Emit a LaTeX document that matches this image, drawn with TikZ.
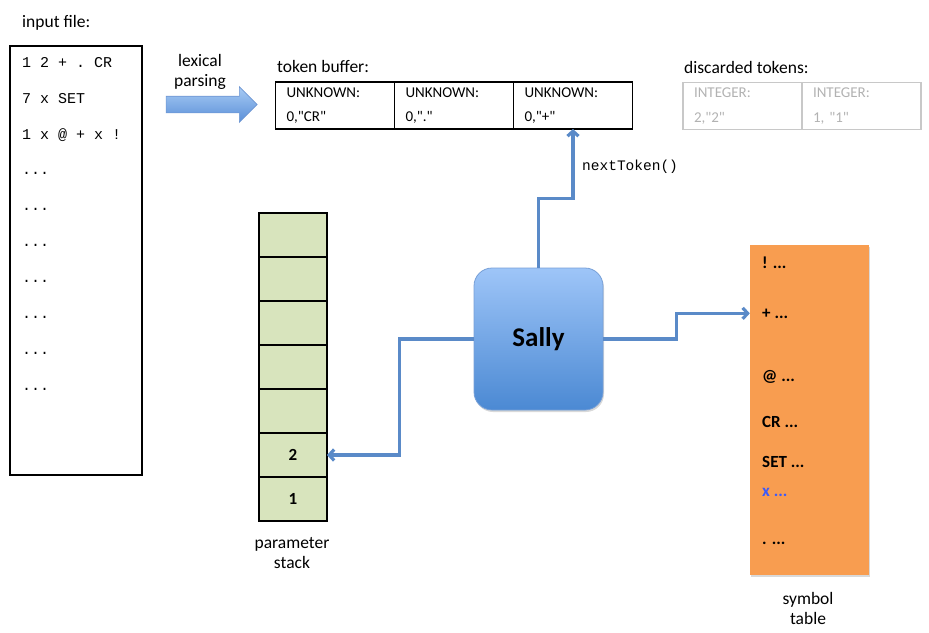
\documentclass[tikz,border=0pt]{standalone}
\usepackage{fontspec}
\setmainfont{Carlito}[Ligatures=TeXOff]
\setmonofont{Liberation Mono}
\usepackage{xcolor}
\usetikzlibrary{shapes,arrows,arrows.meta,positioning,shadows}

\definecolor{connblue}{RGB}{90,138,200}
\definecolor{sallytop}{RGB}{158,197,248}
\definecolor{sallybot}{RGB}{75,137,211}
\definecolor{lextop}{RGB}{168,203,244}
\definecolor{lexbot}{RGB}{90,143,216}
\definecolor{stackgreen}{RGB}{216,228,189}
\definecolor{symorange}{RGB}{248,157,80}
\definecolor{discgray}{RGB}{200,200,200}
\definecolor{disctext}{RGB}{178,178,178}
\definecolor{symblue}{RGB}{60,90,250}

\begin{document}
\begin{tikzpicture}[
    x=1pt, y=-1pt,
    lbl/.style={
        inner sep=0pt,
        font=\fontsize{17.5}{20}\selectfont
    },
    cell/.style={
        draw,
        line width=1.6pt,
        minimum width=119pt,
        minimum height=47pt,
        text width=97pt,
        align=left,
        inner sep=0pt,
        outer sep=0pt,
        font=\fontsize{15}{24.5}\selectfont
    },
    slot/.style={
        draw,
        line width=1.6pt,
        fill=stackgreen,
        minimum width=68pt,
        minimum height=44pt,
        inner sep=0pt,
        outer sep=0pt,
        font=\bfseries\fontsize{17}{20}\selectfont
    },
    sym/.style={
        anchor=base west,
        inner sep=0pt,
        font=\bfseries\fontsize{17}{20}\selectfont
    },
    conn/.style={
        draw=connblue,
        line width=3.2pt,
        -{Straight Barb[length=5pt,width=11pt]}
    }
]
    \useasboundingbox (0,0) rectangle (929,632);

    % input file
    \node[lbl, anchor=base west] (inlabel) at (22,27) {input file:};
    \node[
        draw,
        line width=1.6pt,
        minimum width=132pt,
        minimum height=429pt
    ] (infile) at (76,260.5) {};
    \node[
        anchor=north west,
        inner sep=0pt,
        align=left,
        font=\ttfamily\fontsize{15}{35.9}\selectfont
    ] (inlines) at (22,57) {1 2 + . CR\\7 x SET\\1 x @ + x !\\...\\...\\...\\...\\...\\...\\...};

    % lexical parsing
    \node[
        single arrow,
        minimum height=91pt,
        minimum width=35pt,
        single arrow head extend=9.5pt,
        inner sep=8pt,
        top color=lextop,
        bottom color=lexbot,
        draw={rgb,255:red,110;green,150;blue,210},
        line width=0.6pt
    ] (lexarrow) at (207.5,104.5) {};
    \node[lbl, align=center] (lexlabel) at (200,72) {lexical\\parsing};

    % token buffer
    \node[lbl, anchor=base west] (buflabel) at (277,72) {token buffer:};
    \node[cell] (tok1) at (335,105.5) {UNKNOWN:\\0,"CR"};
    \node[cell, right=0pt of tok1] (tok2) {UNKNOWN:\\0,"."};
    \node[cell, right=0pt of tok2] (tok3) {UNKNOWN:\\0,"+"};

    % discarded tokens
    \node[lbl, anchor=base west] (disclabel) at (684,73) {discarded tokens:};
    \node[cell, draw=discgray, text=disctext] (disc1) at (742.5,106) {INTEGER:\\2,"2"};
    \node[cell, draw=discgray, text=disctext, right=0pt of disc1] (disc2) {INTEGER:\\1, "1"};

    % parameter stack
    \node[slot] (slot7) at (293,235) {};
    \node[slot, below=0pt of slot7] (slot6) {};
    \node[slot, below=0pt of slot6] (slot5) {};
    \node[slot, below=0pt of slot5] (slot4) {};
    \node[slot, below=0pt of slot4] (slot3) {};
    \node[slot, below=0pt of slot3] (slot2) {2};
    \node[slot, below=0pt of slot2] (slot1) {1};
    \node[lbl, align=center] (stacklabel) at (292,553) {parameter\\stack};

    % Sally
    \node[
        rounded corners=18pt,
        minimum width=129pt,
        minimum height=142pt,
        top color=sallytop,
        bottom color=sallybot,
        draw={rgb,255:red,120;green,160;blue,215},
        line width=0.8pt,
        drop shadow={shadow xshift=1pt, shadow yshift=-2pt, opacity=.3},
        font=\bfseries\fontsize{27}{30}\selectfont
    ] (sally) at (538.5,339) {Sally};

    % symbol table
    \node[
        fill=symorange,
        minimum width=119pt,
        minimum height=330pt,
        drop shadow={shadow xshift=1pt, shadow yshift=-2pt, opacity=.3}
    ] (symtab) at (809.5,409.5) {};
    \node[sym] (symExcl) at (762,268) {! ...};
    \node[sym] (symPlus) at (762,318) {+ ...};
    \node[sym] (symAt) at (762,381) {@ ...};
    \node[sym] (symCR) at (762,427) {CR ...};
    \node[sym] (symSet) at (762,467) {SET ...};
    \node[sym, text=symblue] (symX) at (762,496) {x ...};
    \node[sym] (symDot) at (762,544) {. ...};
    \node[lbl, align=center] (symlabel) at (808,608) {symbol\\table};

    % connectors
    \draw[conn] (sally.north) -- ++(0,-69) -| (tok3.south);
    \node[
        anchor=base west,
        inner sep=0pt,
        font=\ttfamily\fontsize{14.5}{16}\selectfont
    ] (nextlabel) at (582,170) {nextToken()};
    \draw[conn] (sally.west) -- ++(-74,0) |- (slot2.east);
    \draw[conn] (sally.east) -- ++(73,0) |- (symtab.west |- symPlus.west);
\end{tikzpicture}
\end{document}
